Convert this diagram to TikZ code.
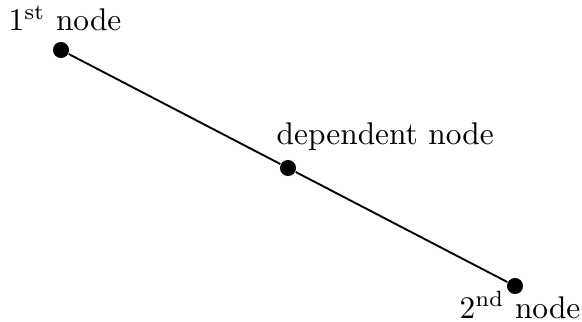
\documentclass[tikz,border=0pt]{standalone}
\usetikzlibrary{positioning}
\tikzset{
  dot/.style  = {circle, fill=black, inner sep=0pt, minimum size=0.18cm},
  lbl/.style  = {inner sep=0pt, font=\normalsize},
  link/.style = {line width=0.6pt, black},
}
\begin{document}
\begin{tikzpicture}[x=0.0112cm, y=-0.0112cm]
  \useasboundingbox (0,0) rectangle (582,321);
  % the two end nodes and the node that depends on them
  \node[dot, label={[lbl, label distance=0.11cm, xshift=0.045cm]above:1\textsuperscript{st} node}]
    (first) at (61,50) {};
  \node[dot, label={[lbl, label distance=0.09cm, anchor=south west, xshift=-0.134cm]north:dependent node}]
    (dep) at (288,168) {};
  \node[dot, label={[lbl, label distance=-0.04cm, xshift=0.056cm]below:2\textsuperscript{nd} node}]
    (second) at (515,286) {};
  \draw[link] (first) -- (dep) -- (second);
\end{tikzpicture}
\end{document}
